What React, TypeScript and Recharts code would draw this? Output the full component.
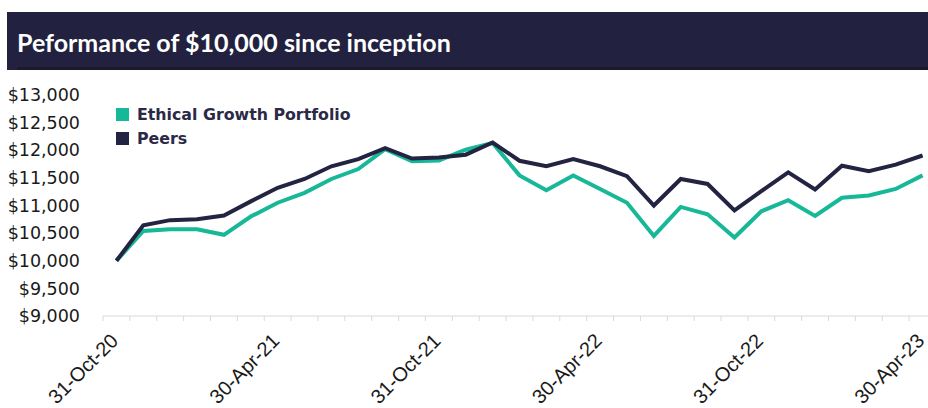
import { Legend, Line, LineChart, XAxis, YAxis } from "recharts";

const dates = [
  "31-Oct-20", "30-Nov-20", "31-Dec-20", "31-Jan-21", "28-Feb-21", "31-Mar-21",
  "30-Apr-21", "31-May-21", "30-Jun-21", "31-Jul-21", "31-Aug-21", "30-Sep-21",
  "31-Oct-21", "30-Nov-21", "31-Dec-21", "31-Jan-22", "28-Feb-22", "31-Mar-22",
  "30-Apr-22", "31-May-22", "30-Jun-22", "31-Jul-22", "31-Aug-22", "30-Sep-22",
  "31-Oct-22", "30-Nov-22", "31-Dec-22", "31-Jan-23", "28-Feb-23", "31-Mar-23",
  "30-Apr-23",
];

const ethicalGrowth = [
  10000, 10540, 10570, 10570, 10470, 10800, 11050, 11230, 11480, 11660, 12020,
  11800, 11815, 12010, 12130, 11545, 11275, 11545, 11300, 11050, 10450, 10975,
  10840, 10420, 10895, 11095, 10810, 11140, 11180, 11300, 11545,
];

const peers = [
  10000, 10640, 10735, 10750, 10820, 11075, 11320, 11480, 11710, 11840, 12040,
  11850, 11870, 11920, 12140, 11810, 11710, 11840, 11710, 11530, 11000, 11480,
  11390, 10910, 11260, 11600, 11290, 11720, 11620, 11740, 11905,
];

const labelIdx = [0, 6, 12, 18, 24, 30];
const yTicks = [9000, 9500, 10000, 10500, 11000, 11500, 12000, 12500, 13000];

const TEAL = "#17b897";
const NAVY = "#232342";

const rows = dates.map((d, i) => ({
  idx: i,
  date: d,
  egp: ethicalGrowth[i],
  peers: peers[i],
}));

// excel-style: tick marks between months, labels on the month itself
const boundaryTicks = [...dates.map((_, i) => i - 0.5), dates.length - 0.5];
const xTicks = [...boundaryTicks, ...labelIdx];

const XTick = (props: any) => {
  const { x, y, payload } = props;
  const v = payload.value as number;
  if (!Number.isInteger(v)) {
    return <line x1={x} x2={x} y1={y} y2={y + 5} stroke="#d9d9d9" />;
  }
  const ax = x + 3;
  const ay = y + 26;
  return (
    <text
      x={ax}
      y={ay}
      textAnchor="end"
      transform={`rotate(-45 ${ax} ${ay})`}
      fill="#1a1a1a"
      fontSize={20}
      fontFamily="'Liberation Sans', Arial, sans-serif"
    >
      {dates[v]}
    </text>
  );
};

const LegendContent = ({ payload }: any) => (
  <div>
    {(payload ?? []).map((e: any) => (
      <div
        key={e.value}
        style={{ display: "flex", alignItems: "center", height: 24.5 }}
      >
        <span
          style={{
            width: 13,
            height: 13,
            background: e.color,
            marginRight: 8,
            display: "inline-block",
          }}
        />
        <span
          style={{
            fontFamily: "'DejaVu Sans', sans-serif",
            fontWeight: 700,
            fontSize: 15.8,
            color: "#2a2946",
          }}
        >
          {e.value}
        </span>
      </div>
    ))}
  </div>
);

export default function App() {
  return (
    <div
      style={{
        position: "relative",
        width: 928,
        height: 408,
        overflow: "hidden",
        background: "#fff",
      }}
    >
      <style>{"body{margin:0}"}</style>
      <LineChart
        width={940}
        height={408}
        data={rows}
        margin={{ top: 95, right: 4, bottom: 0, left: 0 }}
        style={{ position: "absolute", left: 0, top: 0 }}
      >
        <XAxis
          dataKey="idx"
          type="number"
          domain={[-0.5, dates.length - 0.5]}
          ticks={xTicks}
          interval={0}
          tickLine={false}
          tickSize={0}
          tickMargin={0}
          axisLine={{ stroke: "#d9d9d9" }}
          height={92}
          tick={(p: any) => <XTick {...p} />}
        />
        <YAxis
          domain={[9000, 13000]}
          ticks={yTicks}
          interval={0}
          width={103}
          axisLine={false}
          tickLine={false}
          tickSize={6}
          tickMargin={17}
          tickFormatter={(v: number) => `$${v.toLocaleString("en-US")}`}
          tick={{
            fill: "#1a1a1a",
            fontSize: 17.5,
            fontFamily: "'DejaVu Sans', sans-serif",
          }}
        />
        <Legend
          layout="horizontal"
          verticalAlign="middle"
          align="center"
          wrapperStyle={{ top: 102, left: 116, width: "auto" }}
          content={<LegendContent />}
        />
        <Line
          type="linear"
          dataKey="egp"
          name="Ethical Growth Portfolio"
          stroke={TEAL}
          strokeWidth={4}
          dot={false}
          isAnimationActive={false}
        />
        <Line
          type="linear"
          dataKey="peers"
          name="Peers"
          stroke={NAVY}
          strokeWidth={4}
          dot={false}
          isAnimationActive={false}
        />
      </LineChart>
      <div
        style={{
          position: "absolute",
          left: 7,
          top: 12,
          width: 930,
          height: 58,
          background: "#222240",
        }}
      >
        <div
          style={{
            position: "absolute",
            left: 10,
            top: 1,
            lineHeight: "58px",
            fontFamily: "Lato, sans-serif",
            fontWeight: 700,
            fontSize: 25,
            color: "#fff",
            whiteSpace: "nowrap",
          }}
        >
          Peformance of $10,000 since inception
        </div>
        <div
          style={{
            position: "absolute",
            left: 10,
            right: 0,
            bottom: 0,
            height: 3,
            background: "#1c1a2a",
          }}
        />
      </div>
    </div>
  );
}
